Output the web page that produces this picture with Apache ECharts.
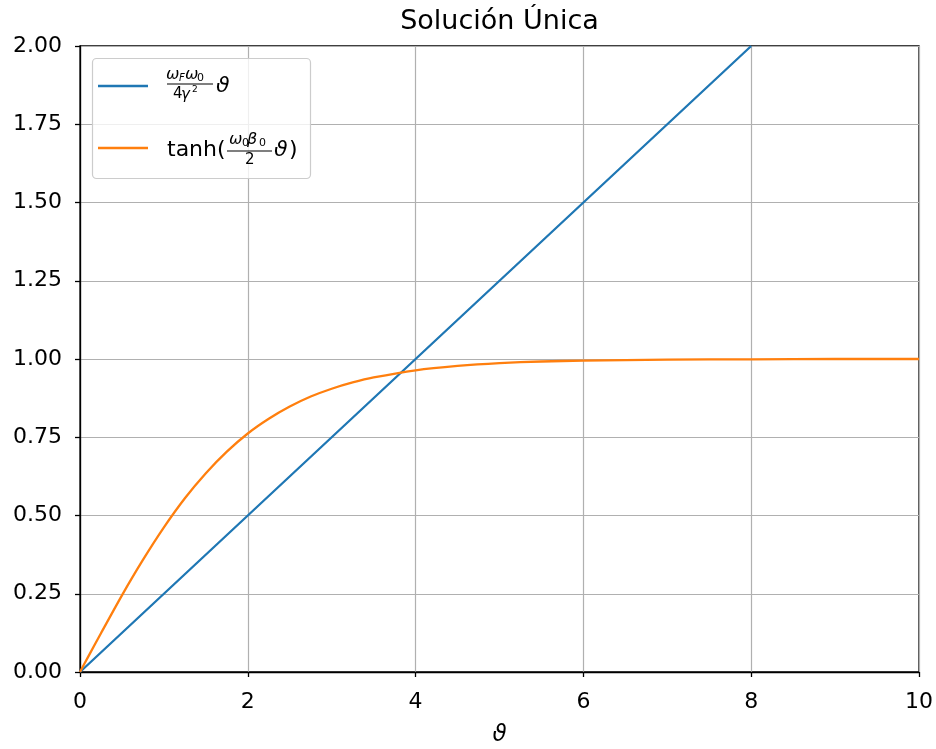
<!DOCTYPE html>
<html>
<head>
<meta charset="utf-8">
<script src="https://cdn.jsdelivr.net/npm/echarts@6/dist/echarts.min.js"></script>
<style>html,body{margin:0;padding:0;background:#fff}#c{width:936px;height:749px}</style>
</head>
<body>
<div id="c"></div>
<script>
// Data
const lineX = [0, 2, 4, 6, 8];
const lineY = [0, 0.5, 1.0, 1.5, 2.0];
const tanhX = [0, 0.1, 0.25, 0.5, 0.75, 1, 1.25, 1.5, 1.75, 2, 2.25, 2.5, 2.75, 3, 3.25, 3.5, 4, 4.5, 5, 5.5, 6, 7, 8, 9, 10];
const tanhY = [0, 0.05, 0.124, 0.245, 0.358, 0.462, 0.555, 0.635, 0.704, 0.762, 0.809, 0.848, 0.880, 0.905, 0.925, 0.941, 0.964, 0.978, 0.987, 0.992, 0.995, 0.998, 0.999, 1.0, 1.0];
const yTicks = [0, 0.25, 0.5, 0.75, 1.0, 1.25, 1.5, 1.75, 2.0];
const xTicks = [0, 2, 4, 6, 8, 10];
const title = 'Solución Única';
const xName = 'ϑ';

const FONT = 'DejaVu Sans';
const chart = echarts.init(document.getElementById('c'));
const pairs = (xs, ys) => xs.map((x, i) => [x, ys[i]]);

const txt = (x, y, s, size, italic, va, ha) => ({
  type: 'text', x: x, y: y, z: 100,
  style: {text: s, font: (italic ? 'italic ' : '') + size + 'px "' + FONT + '"', fill: '#000',
          textVerticalAlign: va || 'middle', textAlign: ha || 'left'}
});

chart.setOption({
  animation: false,
  backgroundColor: '#fff',
  grid: {left: 80, right: 17, top: 46, bottom: 77, outerBoundsMode: 'none', containLabel: false,
         show: true, borderColor: '#000', borderWidth: 1.3, backgroundColor: '#fff'},
  xAxis: {
    type: 'value', min: xTicks[0], max: xTicks[xTicks.length - 1], interval: 2,
    name: xName, nameLocation: 'middle', nameGap: 52,
    nameTextStyle: {fontFamily: FONT, fontSize: 23, fontStyle: 'italic', color: '#000'},
    axisLine: {show: true, lineStyle: {color: '#000', width: 1.3}},
    axisTick: {show: true, length: 5, lineStyle: {color: '#000', width: 1.3}},
    axisLabel: {fontFamily: FONT, fontSize: 22, color: '#000', margin: 19},
    splitLine: {show: true, lineStyle: {color: '#b0b0b0', width: 1.2}}
  },
  yAxis: {
    type: 'value', min: yTicks[0], max: yTicks[yTicks.length - 1], interval: 0.25,
    axisLine: {show: true, lineStyle: {color: '#000', width: 1.3}},
    axisTick: {show: true, length: 5, lineStyle: {color: '#000', width: 1.3}},
    axisLabel: {fontFamily: FONT, fontSize: 22, color: '#000', margin: 18, formatter: v => v.toFixed(2)},
    splitLine: {show: true, lineStyle: {color: '#b0b0b0', width: 1.2}}
  },
  series: [
    {type: 'line', data: pairs(lineX, lineY), showSymbol: false, clip: true,
     lineStyle: {color: '#1f77b4', width: 2.3}, itemStyle: {color: '#1f77b4'}},
    {type: 'line', data: pairs(tanhX, tanhY), showSymbol: false, clip: true, smooth: 0.2,
     lineStyle: {color: '#ff7f0e', width: 2.3}, itemStyle: {color: '#ff7f0e'}}
  ],
  graphic: [
    txt(499.5, 8, title, 27, false, 'top', 'center'),
    {type: 'rect', z: 90, shape: {x: 92.5, y: 58.5, width: 218, height: 120, r: 4},
     style: {fill: 'rgba(255,255,255,0.8)', stroke: '#cccccc', lineWidth: 1.2}},
    {type: 'line', z: 100, shape: {x1: 98, y1: 86, x2: 148, y2: 86}, style: {stroke: '#1f77b4', lineWidth: 2.3}},
    {type: 'line', z: 100, shape: {x1: 98, y1: 148, x2: 148, y2: 148}, style: {stroke: '#ff7f0e', lineWidth: 2.3}},
    // blue label: (ω_F ω_0)/(4γ²) ϑ
    txt(166, 75, 'ω', 16, true),
    txt(179, 78, 'F', 10, true),
    txt(185, 75, 'ω', 16, true),
    txt(197, 78, '0', 11),
    {type: 'line', z: 100, shape: {x1: 167, y1: 84, x2: 213, y2: 84}, style: {stroke: '#000', lineWidth: 1.2}},
    txt(173, 94, '4', 15),
    txt(181, 95, 'γ', 15, true),
    txt(192, 90, '2', 9),
    txt(216, 86, 'ϑ', 22, true),
    // orange label: tanh((ω_0 β_0)/2 ϑ)
    txt(167, 150, 'tanh(', 22),
    txt(229, 140, 'ω', 16, true),
    txt(242, 143, '0', 11),
    txt(247, 140, 'β', 16, true),
    txt(259, 143, '0', 11),
    {type: 'line', z: 100, shape: {x1: 227, y1: 151, x2: 272, y2: 151}, style: {stroke: '#000', lineWidth: 1.2}},
    txt(245, 160, '2', 15),
    txt(274, 150, 'ϑ', 22, true),
    txt(289, 150, ')', 22)
  ]
});
</script>
</body>
</html>
